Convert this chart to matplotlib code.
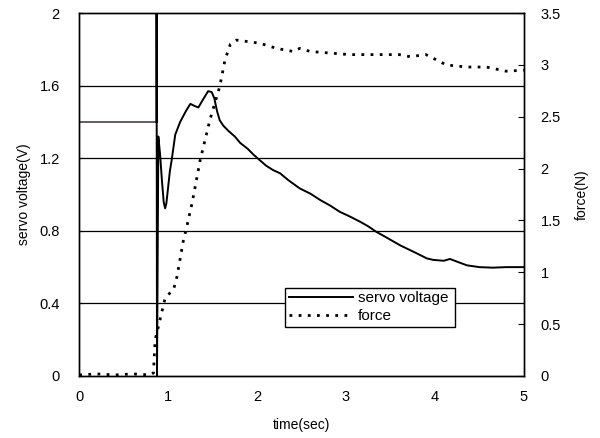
import matplotlib
matplotlib.use("Agg")
import matplotlib.pyplot as plt
from matplotlib.lines import Line2D

plt.rcParams['font.family'] = ['Liberation Sans', 'DejaVu Sans']

# servo voltage (V), left axis
servo_t = [0, 0.87, 0.87, 0.875, 0.89, 0.91, 0.93, 0.95, 0.966, 0.98, 1.0, 1.02,
           1.04, 1.08, 1.135, 1.2, 1.25, 1.29, 1.34, 1.4, 1.45, 1.49, 1.52, 1.55,
           1.58, 1.62, 1.68, 1.75, 1.81, 1.9, 1.96, 2.03, 2.1, 2.18, 2.26, 2.35,
           2.48, 2.6, 2.71, 2.82, 2.93, 3.04, 3.16, 3.25, 3.34, 3.45, 3.61, 3.72,
           3.8, 3.91, 3.98, 4.1, 4.17, 4.25, 4.36, 4.5, 4.65, 4.8, 5.0]
servo_v = [1.4, 1.4, 2.0, 0.0, 1.32, 1.22, 1.08, 0.96, 0.924, 0.95, 1.04, 1.13,
           1.19, 1.33, 1.40, 1.46, 1.50, 1.49, 1.48, 1.53, 1.57, 1.565, 1.53, 1.46,
           1.41, 1.38, 1.35, 1.32, 1.285, 1.25, 1.22, 1.19, 1.16, 1.135, 1.117, 1.08,
           1.034, 1.005, 0.97, 0.94, 0.905, 0.88, 0.85, 0.825, 0.795, 0.765, 0.72, 0.694,
           0.675, 0.648, 0.64, 0.635, 0.645, 0.63, 0.61, 0.60, 0.597, 0.60, 0.60]

# force (N), right axis
force_t = [0, 0.2, 0.4, 0.6, 0.8, 0.835, 0.854, 0.89, 0.93, 0.966, 1.02, 1.06,
           1.10, 1.135, 1.17, 1.21, 1.236, 1.27, 1.36, 1.47, 1.58, 1.64, 1.7,
           1.77, 2.03, 2.22, 2.41, 2.48, 2.6, 3.04, 3.6, 3.72, 3.9, 4.13, 4.36,
           4.58, 4.8, 5.0]
force_n = [0.01, 0.02, 0.01, 0.02, 0.01, 0.03, 0.35, 0.475, 0.62, 0.75, 0.80, 0.83,
           0.96, 1.13, 1.30, 1.44, 1.54, 1.67, 2.08, 2.47, 2.79, 3.05, 3.2,
           3.24, 3.21, 3.16, 3.13, 3.16, 3.13, 3.10, 3.10, 3.08, 3.10, 3.0, 2.98,
           2.98, 2.94, 2.95]

volt_ticks = [0, 0.4, 0.8, 1.2, 1.6, 2]
volt_labels = ['0', '0.4', '0.8', '1.2', '1.6', '2']
force_ticks = [0, 0.5, 1, 1.5, 2, 2.5, 3, 3.5]
force_labels = ['0', '0.5', '1', '1.5', '2', '2.5', '3', '3.5']
time_ticks = [0, 1, 2, 3, 4, 5]

dots = (0, (1, 2.3))

fig = plt.figure(figsize=(6, 4.38), dpi=100)
ax = fig.add_axes([0.132, 0.1416, 0.741, 0.8284])
ax2 = ax.twinx()

# the resting level before the step is printed a bit lighter in the scan
ax.plot(servo_t[:2], servo_v[:2], color='#5e4c5a', lw=1.3)
ax.plot(servo_t[1:], servo_v[1:], color='black', lw=1.4)
ax2.plot(force_t, force_n, color='black', lw=2.0, linestyle=dots)

ax.set_xlim(0, 5)
ax.set_ylim(0, 2)
ax2.set_ylim(0, 3.5)

ax.set_xticks(time_ticks)
ax.set_yticks(volt_ticks)
ax.set_yticklabels(volt_labels)
ax2.set_yticks(force_ticks)
ax2.set_yticklabels(force_labels)

for y in volt_ticks[1:-1]:
    ax.axhline(y, color='black', lw=0.9)

ax.tick_params(axis='x', length=0, pad=10, labelsize=10.5)
ax.tick_params(axis='y', length=3, direction='in', pad=14, labelsize=10.5)
ax2.tick_params(axis='y', length=4, direction='in', pad=12, labelsize=10.5)

for a in (ax, ax2):
    for s in a.spines.values():
        s.set_linewidth(1.0)

ax.set_xlabel('time(sec)', fontsize=10, labelpad=10)
ax.set_ylabel('servo voltage(V)', fontsize=10, labelpad=6)
ax2.set_ylabel('force(N)', fontsize=10, labelpad=10)

handles = [Line2D([], [], color='black', lw=1.4),
           Line2D([], [], color='black', lw=2.0, linestyle=dots)]
leg = ax.legend(handles, ['servo voltage', 'force'], loc='lower left',
                bbox_to_anchor=(0.463, 0.135, 0.382, 0.121), mode='expand',
                fancybox=False, shadow=False, framealpha=1, edgecolor='black',
                handlelength=4.2, fontsize=11, borderpad=0.25, labelspacing=0.25,
                handletextpad=0.3, borderaxespad=0)
leg.get_frame().set_linewidth(1.0)

fig.savefig('out.png', dpi=100)
